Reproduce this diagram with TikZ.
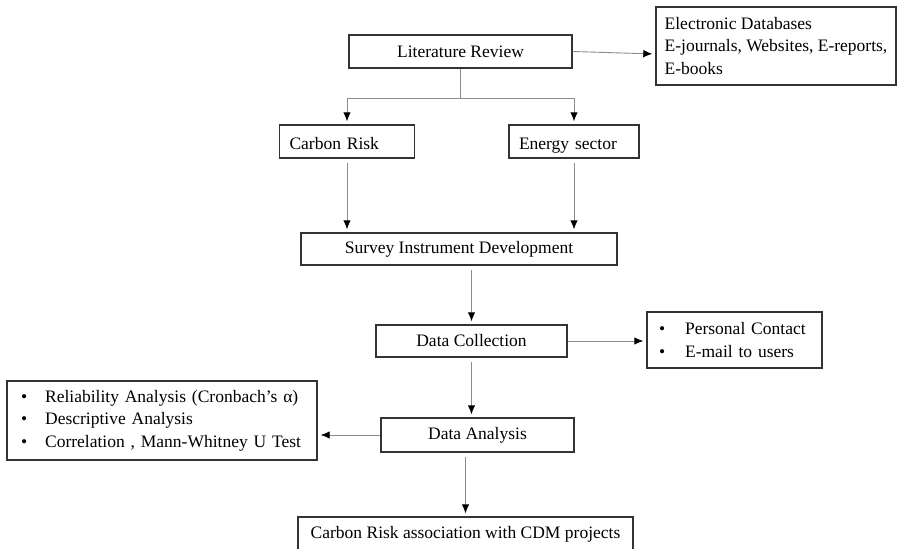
\documentclass[tikz,border=0pt]{standalone}
\usepackage{fontspec}
\setmainfont{Liberation Serif}
\usetikzlibrary{arrows.meta}
\tikzset{every node/.style={font=\fontsize{17.5}{22.5}\selectfont}}
\tikzset{block/.style={draw=black!80,line width=1.4pt,minimum height=33pt,inner sep=0pt}}
\tikzset{single/.style={text height=17pt,text depth=2pt}}
\tikzset{conn/.style={draw=black!45,line width=0.9pt,-{Latex[black,length=9pt,width=7.5pt]},shorten <=4pt,shorten >=3pt}}

\begin{document}
\begin{tikzpicture}[x=1pt,y=-1pt]
\useasboundingbox (0,0) rectangle (898,549);

\node[block,minimum width=223pt] (review) at (460.5,51.5) {Literature Review};
\node[block,minimum width=240pt,minimum height=78pt,align=left] (databases) at (776,46) {Electronic Databases\\E-journals, Websites, E-reports,\\E-books};
\node[block,single,minimum width=135pt,text width=115pt,align=left] (carbon) at (347,141.5) {Carbon Risk};
\node[block,single,minimum width=130pt,text width=110pt,align=left] (energy) at (574,141.5) {Energy sector};
\node[block,minimum width=316pt,minimum height=32pt] (survey) at (459,249) {Survey Instrument Development};
\node[block,minimum width=191pt,minimum height=32pt] (collection) at (471.5,341) {Data Collection};
\node[block,minimum width=175pt,minimum height=56pt,text width=151pt,align=left] (contact) at (734.5,340) {\textbullet\hspace{20pt}Personal Contact\\\textbullet\hspace{20pt}E-mail to users};
\node[block,minimum width=193pt,minimum height=34pt] (analysis) at (477.5,435) {Data Analysis};
\node[block,minimum width=310pt,minimum height=79pt,text width=282pt,align=left] (tests) at (162,420.5) {\textbullet\hspace{18pt}Reliability Analysis (Cronbach’s α)\\\textbullet\hspace{18pt}Descriptive Analysis\\\textbullet\hspace{18pt}Correlation , Mann-Whitney U Test};
\node[block,minimum width=335pt,minimum height=34pt] (cdm) at (465.5,534) {Carbon Risk association with CDM projects};

\coordinate (split) at (460.5,98);
\draw[draw=black!45,line width=0.9pt] (review.south) -- (split);
\draw[conn,shorten <=0pt] (split) -| (carbon.north);
\draw[conn,shorten <=0pt] (split) -| (energy.north);
\draw[conn,shorten <=0pt] (review.east) -- ([yshift=-8pt]databases.west);
\draw[conn] (carbon.south) -- (carbon.south |- survey.north);
\draw[conn] (energy.south) -- (energy.south |- survey.north);
\draw[conn] (survey.south -| collection.north) -- (collection.north);
\draw[conn,shorten <=0pt] (collection.east) -- (collection.east -| contact.west);
\draw[conn] (collection.south) -- (collection.south |- analysis.north);
\draw[conn,shorten <=0pt] (analysis.west) -- (analysis.west -| tests.east);
\draw[conn] (cdm.north |- analysis.south) -- (cdm.north);

\end{tikzpicture}
\end{document}
